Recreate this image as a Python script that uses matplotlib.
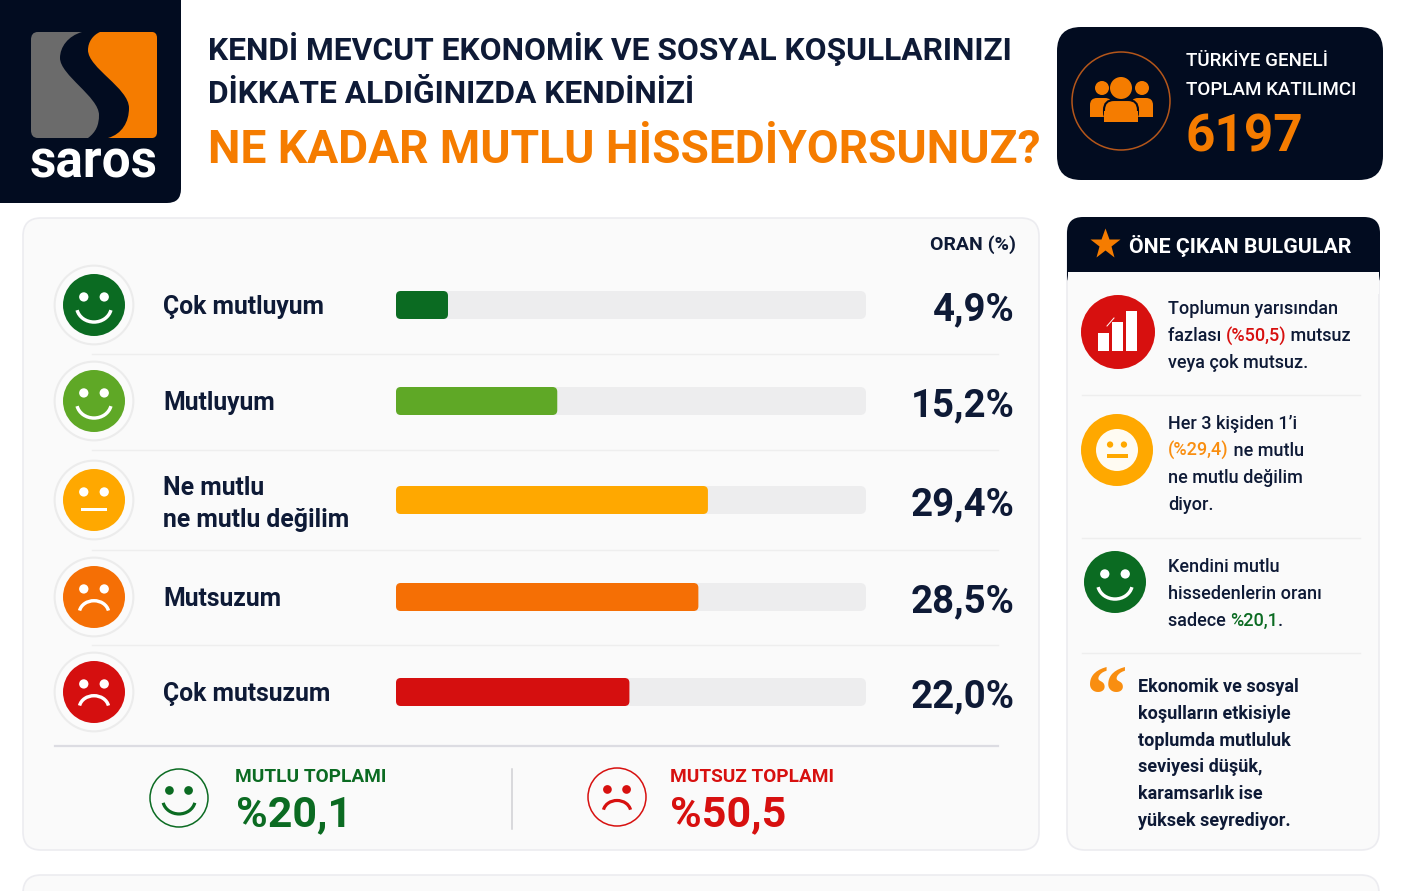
import matplotlib
matplotlib.use("Agg")
import matplotlib.pyplot as plt
from matplotlib.patches import Circle, Arc, FancyBboxPatch, PathPatch, Rectangle
from matplotlib.path import Path

NAVY = "#020c20"
TEXT = "#0e1a36"
ORANGE = "#f57c00"
GREEN = "#0b6b22"
RED = "#d7100f"

labels = ["Çok mutluyum", "Mutluyum", "Ne mutlu\nne mutlu değilim", "Mutsuzum", "Çok mutsuzum"]
values = [4.9, 15.2, 29.4, 28.5, 22.0]
value_texts = ["4,9%", "15,2%", "29,4%", "28,5%", "22,0%"]
colors = ["#0b6b22", "#5fa826", "#ffa800", "#f56f05", "#d50f0f"]
moods = ["happy", "happy", "flat", "sad", "sad"]
track_max = 44.3

happy_total = "%20,1"
sad_total = "%50,5"
participants = "6197"

row_y = [305, 401, 500, 597, 692]
sep_y = [354, 450, 550, 645]

fig = plt.figure(figsize=(14.02, 8.91), dpi=100, facecolor="#ffffff")
ax = fig.add_axes([0, 0, 1, 1])
ax.set_xlim(0, 1402)
ax.set_ylim(891, 0)
ax.axis("off")


def rbox(x0, y0, x1, y1, r, fc, ec="none", lw=0, z=1):
    p = FancyBboxPatch((x0, y0), x1 - x0, y1 - y0, boxstyle="round,pad=0,rounding_size=%s" % r,
                       fc=fc, ec=ec, lw=lw, zorder=z)
    ax.add_patch(p)
    return p


def face(cx, cy, r, col, mood, fg="white", ring=False, filled=True):
    if ring:
        ax.add_patch(Circle((cx, cy), r * 1.27, fc="#fbfbfb", ec="#ececec", lw=1.5, zorder=3))
    if filled:
        ax.add_patch(Circle((cx, cy), r, fc=col, ec="none", zorder=4))
    else:
        ax.add_patch(Circle((cx, cy), r, fc="none", ec=col, lw=1.1, zorder=4))
    for dx in (-0.33, 0.33):
        ax.add_patch(Circle((cx + dx * r, cy - 0.26 * r), 0.15 * r, fc=fg, ec="none", zorder=5))
    mouth = 0.11 * r * 0.72
    if mood == "happy":
        ax.add_patch(Arc((cx, cy + 0.05 * r), 1.12 * r, 1.0 * r, theta1=12, theta2=168, color=fg, lw=mouth, zorder=5))
    elif mood == "sad":
        ax.add_patch(Arc((cx, cy + 0.52 * r), 0.95 * r, 0.8 * r, theta1=190, theta2=350, color=fg, lw=mouth, zorder=5))
    else:
        ax.add_patch(Rectangle((cx - 0.42 * r, cy + 0.27 * r), 0.84 * r, 0.1 * r, fc=fg, ec="none", zorder=5))


def segs(x, y, parts, **kw):
    # coloured runs on one line, placed one after the other
    rend = fig.canvas.get_renderer()
    inv = ax.transData.inverted()
    for s, c in parts:
        t = ax.text(x, y, s, color=c, va="center", ha="left", zorder=6, **kw)
        bb = t.get_window_extent(rend)
        x += inv.transform((bb.x1, 0))[0] - inv.transform((bb.x0, 0))[0]


# logo
rbox(-30, -30, 181, 203, 14, NAVY)
gray = Path([(38, 32), (33, 32), (31, 35), (31, 40), (31, 130), (31, 135), (33, 138), (38, 138),
             (88, 138), (96, 132), (99, 125), (99, 115), (99, 97), (60, 75), (60, 58), (60, 47), (68, 36), (82, 32), (38, 32)],
            [1, 4, 4, 4, 2, 4, 4, 4, 2, 4, 4, 4, 4, 4, 4, 4, 4, 4, 2])
ax.add_patch(PathPatch(gray, fc="#6b6b6b", ec="none", zorder=2))
orange = Path([(100, 32), (152, 32), (155, 32), (157, 34), (157, 38), (157, 132), (157, 136), (155, 138), (152, 138),
               (108, 138), (122, 134), (129, 122), (129, 108), (129, 88), (88, 68), (88, 50), (88, 42), (93, 35), (100, 32)],
              [1, 2, 4, 4, 4, 2, 4, 4, 4, 2, 4, 4, 4, 4, 4, 4, 4, 4, 4])
ax.add_patch(PathPatch(orange, fc=ORANGE, ec="none", zorder=2))
ax.text(94, 164, "saros", color="white", fontsize=37, fontweight="bold", family="Roboto", ha="center", va="center", zorder=3)

# title
ax.text(208, 49, "KENDİ MEVCUT EKONOMİK VE SOSYAL KOŞULLARINIZI", color=TEXT, fontsize=22.9, fontweight="bold", family="Roboto", va="center")
ax.text(208, 94, "DİKKATE ALDIĞINIZDA KENDİNİZİ", color=TEXT, fontsize=22.9, fontweight="bold", family="Roboto", va="center")
ax.text(208, 150, "NE KADAR MUTLU HİSSEDİYORSUNUZ?", color=ORANGE, fontsize=33.2, fontweight="bold", family="Roboto", va="center")

# participant box
rbox(1057, 27, 1383, 180, 24, NAVY)
ax.add_patch(Circle((1121, 101), 49, fc="none", ec="#b4561a", lw=1.1, zorder=3))
for cx, cy in [(1102, 88), (1142, 88)]:
    ax.add_patch(Circle((cx, cy), 7, fc=ORANGE, ec="none", zorder=4))
ax.add_patch(Circle((1121, 88), 11, fc=ORANGE, ec="none", zorder=5))
for x0, x1 in [(1090, 1112), (1131, 1153)]:
    rbox(x0, 98, x1, 117, 7, ORANGE, z=4)
    ax.add_patch(Rectangle((x0, 108), x1 - x0, 9, fc=ORANGE, ec="none", zorder=4))
rbox(1104, 100, 1138, 122, 10, ORANGE, ec=NAVY, lw=1.5, z=5)
ax.add_patch(Rectangle((1104, 111), 34, 11, fc=ORANGE, ec="none", zorder=5))
ax.text(1186, 61, "TÜRKİYE GENELİ", color="white", fontsize=13.5, fontweight="medium", family="Roboto", va="center", zorder=3)
ax.text(1186, 90, "TOPLAM KATILIMCI", color="white", fontsize=13.5, fontweight="medium", family="Roboto", va="center", zorder=3)
ax.text(1185, 138, participants, color=ORANGE, fontsize=37, fontweight="bold", family="Roboto", va="center", zorder=3)

# main card
rbox(23, 218, 1039, 850, 18, "#fafafa", "#ececf0", 1.2)
ax.text(1016, 245, "ORAN (%)", color=TEXT, fontsize=14, fontweight="bold", family="Roboto", ha="right", va="center", zorder=6)
for y in sep_y:
    ax.plot([92, 998], [y, y], color="#eeeeee", lw=1, zorder=2)

# bars on their own value axis
bx = fig.add_axes([396 / 1402, 0, 470 / 1402, 1], facecolor="none")
bx.set_xlim(0, track_max)
bx.set_ylim(891, 0)
bx.axis("off")
px_per = 470 / track_max
for y, v, c in zip(row_y, values, colors):
    bx.add_patch(FancyBboxPatch((0, y - 14), track_max, 28, boxstyle="round,pad=0,rounding_size=0.55",
                                mutation_aspect=px_per, fc="#ededee", ec="none", zorder=2))
    bx.add_patch(FancyBboxPatch((0, y - 14), v, 28, boxstyle="round,pad=0,rounding_size=0.45",
                                mutation_aspect=px_per, fc=c, ec="none", zorder=3))

for y, lab, vt, c, m in zip(row_y, labels, value_texts, colors, moods):
    face(94, y, 31, c, m, ring=True)
    ax.text(163, y + (4 if "\n" in lab else 2), lab, color=TEXT, fontsize=17.8, fontweight="bold", family="Roboto",
            va="center", linespacing=1.42, zorder=6)
    ax.text(1015, y + 5, vt, color=TEXT, fontsize=27.6, fontweight="bold", family="Roboto", ha="right", va="center", zorder=6)

# totals
ax.plot([55, 998], [746, 746], color="#dcdce2", lw=1.6, zorder=2)
ax.plot([511.5, 511.5], [769, 829], color="#d0d0d4", lw=1.1, zorder=2)
face(179, 798, 29, GREEN, "happy", fg=GREEN, filled=False)
face(617, 797, 29, RED, "sad", fg=RED, filled=False)
ax.text(235, 777, "MUTLU TOPLAMI", color=GREEN, fontsize=13.7, fontweight="bold", family="Roboto", va="center", zorder=6)
ax.text(670, 777, "MUTSUZ TOPLAMI", color=RED, fontsize=13.7, fontweight="bold", family="Roboto", va="center", zorder=6)
ax.text(236, 815, happy_total, color=GREEN, fontsize=31, fontweight="bold", family="Roboto", va="center", zorder=6)
ax.text(670, 815, sad_total, color=RED, fontsize=31, fontweight="bold", family="Roboto", va="center", zorder=6)

# findings panel
rbox(1067, 218, 1379, 850, 18, "#fafafa", "#ececf0", 1.2)
rbox(1067, 217, 1380, 290, 16, NAVY, z=2)
ax.add_patch(Rectangle((1068, 272), 311, 22, fc="#fafafa", ec="none", zorder=3))
ax.plot([1104.5], [244], marker="*", ms=23, color=ORANGE, mec="none", zorder=4)
ax.text(1129, 246, "ÖNE ÇIKAN BULGULAR", color="white", fontsize=15.3, fontweight="bold", family="Roboto", va="center", zorder=4)

ax.add_patch(Circle((1118, 332), 37, fc=RED, ec="none", zorder=3))
for x0, y0 in [(1098, 333), (1112, 322), (1126, 311)]:
    ax.add_patch(Rectangle((x0, y0), 11, 351 - y0, fc="white", ec="none", zorder=4))
ax.plot([1107, 1114], [326, 318], color="white", lw=0.7, zorder=4)
ax.add_patch(Circle((1117, 450), 36, fc="#ffa800", ec="none", zorder=3))
face(1117, 450, 21, "#fffbf2", "flat", fg="#ffa800")
ax.add_patch(Rectangle((1107, 454), 21, 4, fc="#ffa800", ec="none", zorder=5))
face(1115, 582, 31, GREEN, "happy")

fs = dict(fontsize=13, family="Roboto", fontweight="medium")
ax.text(1168, 309, "Toplumun yarısından", color=TEXT, va="center", zorder=6, **fs)
segs(1168, 336, [("fazlası ", TEXT), ("(%50,5)", RED), (" mutsuz", TEXT)], **fs)
ax.text(1168, 363, "veya çok mutsuz.", color=TEXT, va="center", zorder=6, **fs)
ax.plot([1082, 1360], [395, 395], color="#eeeeee", lw=1, zorder=2)
ax.text(1168, 424, "Her 3 kişiden 1’i", color=TEXT, va="center", zorder=6, **fs)
segs(1168, 451, [("(%29,4)", "#f98e10"), (" ne mutlu", TEXT)], **fs)
ax.text(1168, 478, "ne mutlu değilim", color=TEXT, va="center", zorder=6, **fs)
ax.text(1168, 505, "diyor.", color=TEXT, va="center", zorder=6, **fs)
ax.plot([1082, 1360], [538, 538], color="#eeeeee", lw=1, zorder=2)
ax.text(1168, 567, "Kendini mutlu", color=TEXT, va="center", zorder=6, **fs)
ax.text(1168, 594, "hissedenlerin oranı", color=TEXT, va="center", zorder=6, **fs)
segs(1168, 621, [("sadece ", TEXT), ("%20,1", GREEN), (".", TEXT)], **fs)
ax.plot([1082, 1360], [653, 653], color="#eeeeee", lw=1, zorder=2)

ax.text(1107, 703, "“", color="#f98e10", fontsize=60, fontweight="bold", family="Liberation Serif", ha="center", va="center", zorder=6)
quote = ["Ekonomik ve sosyal", "koşulların etkisiyle", "toplumda mutluluk", "seviyesi düşük,", "karamsarlık ise", "yüksek seyrediyor."]
for i, line in enumerate(quote):
    ax.text(1138, 687 + i * 26.8, line, color=TEXT, fontsize=13, fontweight="bold", family="Roboto", va="center", zorder=6)

# bottom card, cut by the image edge
rbox(23, 875, 1379, 930, 18, "#fafafa", "#ececf0", 1.2)

fig.savefig("out.png", dpi=100, facecolor=fig.get_facecolor())
